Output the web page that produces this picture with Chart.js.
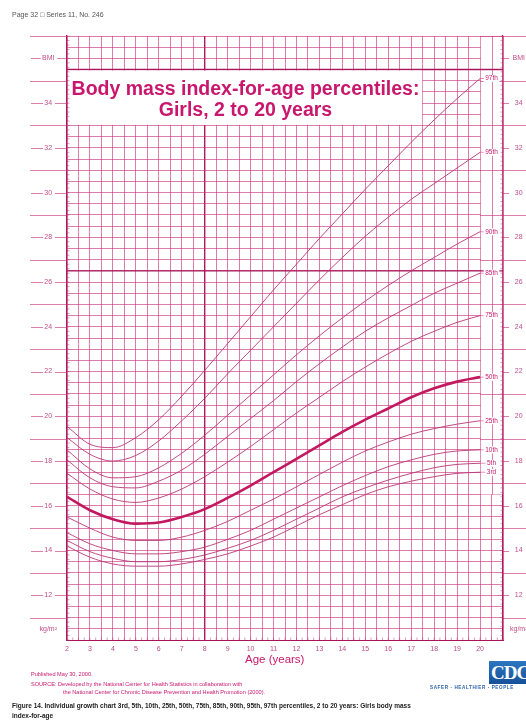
<!DOCTYPE html>
<html><head><meta charset="utf-8">
<script src="https://cdn.jsdelivr.net/npm/chart.js@4"></script>
<style>
html,body{margin:0;padding:0;background:#fff;}
body{width:526px;height:722px;position:relative;overflow:hidden;font-family:"Liberation Sans",Arial,sans-serif;}
#wrap{position:absolute;left:0;top:0;width:526px;height:722px;}
.t{position:absolute;white-space:nowrap;line-height:1;}
</style></head><body>
<div id="wrap"><canvas id="c"></canvas></div>
<div class="t" style="left:12px;top:11px;font-size:7px;color:#555">Page 32 &#9633; Series 11, No. 246</div>
<div class="t" style="left:68px;top:78px;width:355px;text-align:center;font-weight:bold;font-size:19.5px;line-height:20.5px;color:#c8176d">Body mass index-for-age percentiles:<br>Girls, 2 to 20 years</div>
<div class="t" style="left:245px;top:654px;font-size:11.5px;color:#c8176d">Age (years)</div>
<div class="t" style="left:31px;top:672px;font-size:5.6px;color:#c8176d">Published May 30, 2000.</div>
<div class="t" style="left:31px;top:682px;font-size:5.6px;color:#c8176d">SOURCE: Developed by the National Center for Health Statistics in collaboration with</div>
<div class="t" style="left:63px;top:690px;font-size:5.6px;color:#c8176d">the National Center for Chronic Disease Prevention and Health Promotion (2000).</div>
<div class="t" style="left:12px;top:703px;font-size:6.5px;font-weight:bold;color:#222">Figure 14. Individual growth chart 3rd, 5th, 10th, 25th, 50th, 75th, 85th, 90th, 95th, 97th percentiles, 2 to 20 years: Girls body mass</div>
<div class="t" style="left:12px;top:713px;font-size:6.5px;font-weight:bold;color:#222">index-for-age</div>
<div class="t" style="left:489px;top:661px;width:40px;height:23px;background:linear-gradient(#2c77c0,#15509a);color:#fff;font-weight:bold;font-size:19px;line-height:23px;letter-spacing:-1px;padding-left:2px;font-family:'Liberation Serif',serif">CDC</div>
<div class="t" style="left:430px;top:686px;font-size:4.6px;font-weight:bold;color:#2a62a8;letter-spacing:0.6px">SAFER &#183; HEALTHIER &#183; PEOPLE</div>
<script>
// ---- data ----
const ages = [2,3,4,5,6,7,8,9,10,11,12,13,14,15,16,17,18,19,20];
const p3  = [14.2,13.7,13.4,13.3,13.3,13.4,13.6,13.85,14.2,14.6,15.1,15.6,16.05,16.5,16.85,17.1,17.3,17.45,17.5];
const p5  = [14.45,13.95,13.65,13.5,13.5,13.6,13.8,14.1,14.45,14.9,15.4,15.9,16.4,16.8,17.15,17.45,17.7,17.85,17.9];
const p10 = [14.8,14.3,14.0,13.85,13.85,13.95,14.15,14.5,14.9,15.4,15.9,16.4,16.9,17.35,17.75,18.05,18.3,18.45,18.5];
const p25 = [15.5,15.0,14.6,14.45,14.45,14.6,14.9,15.3,15.8,16.3,16.85,17.4,17.95,18.45,18.85,19.2,19.45,19.65,19.8];
const p50 = [16.4,15.8,15.4,15.2,15.25,15.5,15.85,16.35,16.9,17.5,18.1,18.7,19.3,19.85,20.35,20.85,21.25,21.55,21.75];
const p75 = [17.45,16.75,16.3,16.15,16.35,16.75,17.3,17.95,18.65,19.4,20.15,20.85,21.55,22.2,22.8,23.35,23.8,24.2,24.5];
const p85 = [18.05,17.25,16.85,16.8,17.1,17.6,18.3,19.1,19.9,20.7,21.55,22.35,23.1,23.8,24.4,24.95,25.5,25.95,26.4];
const p90 = [18.5,17.65,17.25,17.3,17.7,18.35,19.15,20.05,20.95,21.85,22.75,23.6,24.4,25.15,25.85,26.5,27.1,27.7,28.25];
const p95 = [19.05,18.3,18.0,18.25,18.9,19.8,20.8,21.9,22.95,24.0,25.05,26.1,27.1,28.05,28.9,29.7,30.4,31.1,31.8];
const p97 = [19.55,18.75,18.6,19.05,19.85,20.9,22.05,23.25,24.45,25.65,26.8,27.95,29.05,30.15,31.2,32.25,33.25,34.2,35.1];
const seriesNames = ['3rd','5th','10th','25th','50th','75th','85th','90th','95th','97th'];
const seriesValues = [p3,p5,p10,p25,p50,p75,p85,p90,p95,p97];
const xTickLabels = [2,3,4,5,6,7,8,9,10,11,12,13,14,15,16,17,18,19,20];
const yTickLabels = [12,14,16,18,20,22,24,26,28,30,32,34];

const PINK = '#c8176d';
const GRID = 'rgba(200,45,120,0.62)';
const DARK = 'rgba(165,15,85,0.95)';
const CURVE = 'rgba(185,55,120,0.9)';

function yLabel(v){
  if (v === 36) return 'BMI';
  if (v === 10.5) return 'kg/m\u00B2';
  if (yTickLabels.includes(v)) return String(v);
  return '';
}

const datasets = seriesValues.map((arr,i)=>({
  label: seriesNames[i],
  data: ages.map((a,j)=>({x:a,y:arr[j]})),
  borderColor: seriesNames[i]==='50th' ? '#c2185f' : CURVE,
  borderWidth: seriesNames[i]==='50th' ? 2.6 : 1,
  pointRadius: 0,
  cubicInterpolationMode: 'monotone',
  fill: false
}));

const decor = {
  id: 'decor',
  beforeDatasetsDraw(chart){
    const c = chart.ctx, xs = chart.scales.x, ys = chart.scales.y;
    const X = v=>xs.getPixelForValue(v), Y = v=>ys.getPixelForValue(v);
    c.save();
    // right label column: sparse grid in upper part
    c.fillStyle = '#fff';
    c.fillRect(X(20)+0.8, Y(37)+0.8, X(21)-X(20)-1.6, Y(16.5)-Y(37)-1);
    c.strokeStyle = GRID; c.lineWidth = 1;
    for (let v=11; v<=37; v+=2){ if (v>16.5){ c.beginPath(); c.moveTo(X(20), Math.round(Y(v))+0.5); c.lineTo(X(21), Math.round(Y(v))+0.5); c.stroke(); } }
    c.beginPath(); c.moveTo(Math.round(X(20.5))+0.5, Y(37)); c.lineTo(Math.round(X(20.5))+0.5, Y(16.5)); c.stroke();
    // dark lines
    c.strokeStyle = DARK; c.lineWidth = 1.4;
    [26.5,35.5].forEach(v=>{ c.beginPath(); c.moveTo(X(2), Y(v)); c.lineTo(X(21), Y(v)); c.stroke(); });
    // title box
    c.fillStyle = '#fff';
    c.fillRect(X(2)+1, Y(35.5)+1, X(17.5)-X(2)-1.5, Y(33)-Y(35.5)-1.5);
    // margin lines at odd values
    c.strokeStyle = GRID; c.lineWidth = 1;
    for (let v=11; v<=37; v+=2){
      const y = Math.round(Y(v))+0.5;
      c.beginPath(); c.moveTo(30,y); c.lineTo(X(2),y); c.stroke();
      c.beginPath(); c.moveTo(X(21),y); c.lineTo(526,y); c.stroke();
    }
    // label dashes
    c.font = '7px "Liberation Sans", Arial, sans-serif';
    [...yTickLabels, 36].forEach(v=>{
      const t = yLabel(v); const w = c.measureText(t).width;
      const y = Math.round(Y(v))+0.5;
      const lc = 49;
      c.beginPath(); c.moveTo(31,y); c.lineTo(lc-w/2-2,y); c.stroke();
      c.beginPath(); c.moveTo(lc+w/2+2,y); c.lineTo(X(2),y); c.stroke();
      c.beginPath(); c.moveTo(X(21),y); c.lineTo(X(21)+6,y); c.stroke();
    });
    // minor ticks
    c.lineWidth = 0.8;
    for (let v=10; v<=37.001; v+=0.2){
      const y = Y(v);
      c.beginPath(); c.moveTo(X(2),y); c.lineTo(X(2)+2.5,y); c.stroke();
      c.beginPath(); c.moveTo(X(21),y); c.lineTo(X(21)-2.5,y); c.stroke();
    }
    for (let a=2; a<=21.001; a+=0.25){
      const x = X(a);
      c.beginPath(); c.moveTo(x,Y(10)); c.lineTo(x,Y(10)-2.5); c.stroke();
    }
    c.restore();
  },
  afterDatasetsDraw(chart){
    const c = chart.ctx, xs = chart.scales.x, ys = chart.scales.y;
    c.save();
    c.font = '6.5px "Liberation Sans", Arial, sans-serif';
    c.textAlign = 'center'; c.textBaseline = 'middle';
    seriesValues.forEach((arr,i)=>{
      const y = ys.getPixelForValue(arr[arr.length-1]);
      const x = (xs.getPixelForValue(20)+xs.getPixelForValue(21))/2;
      const t = seriesNames[i]; const w = c.measureText(t).width;
      c.fillStyle = '#fff'; c.fillRect(x-w/2-1.5, y-3.5, w+3, 7);
      c.fillStyle = PINK; c.fillText(t, x, y);
      c.strokeStyle = GRID; c.lineWidth = 0.8;
      c.beginPath(); c.moveTo(xs.getPixelForValue(20), y); c.lineTo(x-w/2-1.5, y); c.stroke();
    });
    c.restore();
  }
};

new Chart(document.getElementById('c'), {
  type: 'line',
  data: { datasets },
  options: {
    responsive: true, maintainAspectRatio: false, animation: false,
    layout: { padding: { top: 36, left: 0, right: 0, bottom: 0 } },
    plugins: { legend: {display:false}, tooltip: {enabled:false}, title:{display:false} },
    scales: {
      x: {
        type: 'linear', min: 2, max: 21, position: 'bottom',
        afterFit(s){ s.height = 82; },
        ticks: { stepSize: 0.5, autoSkip: false, maxRotation: 0, padding: 5,
          color: '#c24d88', font: {size: 7, family: 'Liberation Sans'},
          callback: v => xTickLabels.includes(v) ? String(v) : '' },
        grid: { drawTicks: false,
          color: ctx => ctx.tick && ctx.tick.value === 8 ? DARK : GRID,
          lineWidth: ctx => ctx.tick && ctx.tick.value === 8 ? 1.4 : 1 },
        border: { display: true, color: DARK, width: 1 }
      },
      y: {
        type: 'linear', min: 10, max: 37, position: 'left',
        afterFit(s){ s.width = 67; },
        ticks: { stepSize: 0.5, autoSkip: false, crossAlign: 'center', padding: 10,
          color: '#c24d88', font: {size: 7, family: 'Liberation Sans'},
          callback: v => yLabel(v) },
        grid: { drawTicks: false, color: GRID, lineWidth: 1 },
        border: { display: true, color: DARK, width: 1.2 }
      },
      y2: {
        type: 'linear', min: 10, max: 37, position: 'right',
        afterFit(s){ s.width = 23; },
        ticks: { stepSize: 0.5, autoSkip: false, crossAlign: 'center', padding: 7,
          color: '#c24d88', font: {size: 7, family: 'Liberation Sans'},
          callback: v => yLabel(v) },
        grid: { display: false, drawTicks: false },
        border: { display: true, color: DARK, width: 1.2 }
      }
    }
  },
  plugins: [decor]
});
</script>
</body></html>
